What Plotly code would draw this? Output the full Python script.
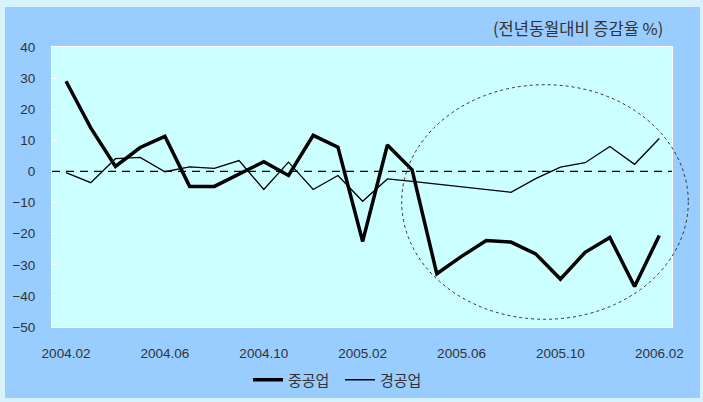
import plotly.graph_objects as go

# Monthly periods 2004.02 - 2006.02
months = [
    "2004.02", "2004.03", "2004.04", "2004.05", "2004.06", "2004.07", "2004.08",
    "2004.09", "2004.10", "2004.11", "2004.12", "2005.01", "2005.02", "2005.03",
    "2005.04", "2005.05", "2005.06", "2005.07", "2005.08", "2005.09", "2005.10",
    "2005.11", "2005.12", "2006.01", "2006.02",
]

# Year-on-year change (%)
heavy = [29.0, 14.0, 1.6, 7.7, 11.3, -4.8, -4.8, -1.0, 3.1, -1.3, 11.6, 7.8, -22.5,
         8.5, 0.5, -32.9, -27.3, -22.2, -22.7, -26.5, -34.6, -26.0, -21.2, -37.0, -20.6]
light = [-0.4, -3.6, 4.1, 4.5, -0.1, 1.5, 1.0, 3.5, -5.8, 3.0, -5.8, -1.3, -9.6,
         -2.4, -3.2, -4.1, -5.0, -5.8, -6.7, -2.3, 1.4, 2.8, 8.0, 2.3, 10.6]

tick_labels = ["2004.02", "2004.06", "2004.10", "2005.02", "2005.06", "2005.10", "2006.02"]
y_ticks = [40, 30, 20, 10, 0, -10, -20, -30, -40, -50]

x_idx = list(range(len(months)))
tick_pos = [months.index(t) for t in tick_labels]

fig = go.Figure()
fig.add_trace(go.Scatter(x=x_idx, y=heavy, mode="lines", name="중공업",
                         line=dict(color="black", width=3.5)))
fig.add_trace(go.Scatter(x=x_idx, y=light, mode="lines", name="경공업",
                         line=dict(color="black", width=1.3)))

font_lat = "Liberation Sans, Arial, sans-serif"
font_kr = "Noto Sans CJK KR, sans-serif"

W, H = 703, 402
L, R, T, B = 52, 31, 47, 75
PW, PH = W - L - R, H - T - B


def px_x(p):
    return (p - L) / PW


def px_y(p):
    return (H - B - p) / PH


edge = "#D7F2FA"
frame = [
    # light outer frame around the blue panel
    dict(type="rect", xref="paper", yref="paper", layer="above",
         x0=px_x(x0), x1=px_x(x1), y0=px_y(y1), y1=px_y(y0),
         fillcolor=edge, line=dict(width=0))
    for (x0, y0, x1, y1) in [(0, 0, W, 7), (0, 398, W, H), (0, 0, 5, H), (700, 0, W, H)]
]

fig.update_layout(
    width=W, height=H,
    margin=dict(l=L, r=R, t=T, b=B, autoexpand=False),
    paper_bgcolor="#99CCFF",
    plot_bgcolor="#CCFFFF",
    showlegend=True,
    legend=dict(orientation="h", x=px_x(248), y=px_y(380), xanchor="left", yanchor="middle",
                font=dict(family=font_kr, size=15, color="#333333"),
                bgcolor="rgba(0,0,0,0)", itemwidth=30, entrywidth=47,
                entrywidthmode="pixels", tracegroupgap=0),
    xaxis=dict(range=[-0.567, 24.514], tickmode="array", tickvals=tick_pos,
               ticktext=tick_labels, showgrid=False, zeroline=False,
               showline=True, linecolor="white", linewidth=1, mirror=True,
               ticks="", ticklabelstandoff=14, automargin=False,
               tickfont=dict(family=font_lat, size=13.5, color="#333333")),
    yaxis=dict(range=[-50, 40], tickmode="array", tickvals=y_ticks,
               showgrid=False, zeroline=False, automargin=False,
               showline=True, linecolor="white", linewidth=1, mirror=True,
               ticks="inside", ticklen=5, tickcolor="white", ticklabelstandoff=13,
               tickfont=dict(family=font_lat, size=13.5, color="#333333")),
    shapes=frame + [
        # zero reference line
        dict(type="line", xref="paper", yref="y", x0=0, x1=1, y0=0, y1=0,
             line=dict(color="black", width=1.2, dash="8px,6px")),
        # highlighted region
        dict(type="circle", xref="paper", yref="paper",
             x0=px_x(401.7), x1=px_x(688.3), y0=px_y(319.3), y1=px_y(84.7),
             line=dict(color="#333333", width=1, dash="dot")),
    ],
    annotations=[
        dict(text="(전년동월대비 증감율 %)", xref="paper", yref="paper",
             x=px_x(665), y=px_y(28), xanchor="right", yanchor="middle",
             showarrow=False, font=dict(family=font_kr, size=16.5, color="#333333")),
    ],
)

fig.write_html("out.html")
